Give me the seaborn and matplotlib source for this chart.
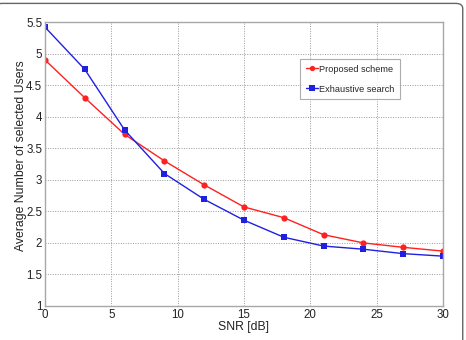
import matplotlib
matplotlib.use("Agg")
import matplotlib.pyplot as plt
import seaborn as sns
import pandas as pd
from matplotlib.patches import FancyBboxPatch

snr = [0, 3, 6, 9, 12, 15, 18, 21, 24, 27, 30]
proposed = [4.90, 4.30, 3.72, 3.30, 2.92, 2.57, 2.40, 2.13, 2.00, 1.93, 1.87]
exhaustive = [5.42, 4.75, 3.79, 3.10, 2.69, 2.36, 2.09, 1.95, 1.90, 1.83, 1.79]
series_names = ["Proposed scheme", "Exhaustive search"]
xticks = [0, 5, 10, 15, 20, 25, 30]
yticks = [1, 1.5, 2, 2.5, 3, 3.5, 4, 4.5, 5, 5.5]

sns.set_theme(style="white")
plt.rcParams['font.family'] = ['Liberation Sans', 'DejaVu Sans']

df = pd.DataFrame({
    "SNR": snr * 2,
    "val": proposed + exhaustive,
    "series": [series_names[0]] * len(snr) + [series_names[1]] * len(snr),
})

fig = plt.figure(figsize=(4.66, 3.40), dpi=100)
ax = fig.add_axes([0.0966, 0.100, 0.854, 0.835])

palette = {series_names[0]: "#ff2020", series_names[1]: "#2020e0"}
markers = {series_names[0]: "o", series_names[1]: "s"}
sns.lineplot(data=df, x="SNR", y="val", hue="series", style="series",
             palette=palette, markers=markers, dashes=False, markersize=4.5,
             markeredgewidth=0, linewidth=1.0, ax=ax)

ax.set_xlim(0, 30)
ax.set_ylim(1, 5.5)
ax.set_xticks(xticks)
ax.set_xticklabels([str(t) for t in xticks])
ax.set_yticks(yticks)
ax.set_yticklabels([("%g" % t) for t in yticks])
ax.tick_params(axis="both", labelsize=8.3, colors="#222222", direction="in",
               length=3, pad=2)
ax.grid(True, linestyle=(0, (1, 1.5)), color="#9a9a9a", linewidth=0.7)
for s in ax.spines.values():
    s.set_color("#a8a8a8")
    s.set_linewidth(1.0)

ax.set_xlabel("SNR [dB]", fontsize=8.8, color="#222222", labelpad=0)
ax.set_ylabel("Average Number of selected Users", fontsize=8.8, color="#222222")
ax.yaxis.set_label_coords(-0.045, 0.53)

leg = ax.legend(loc="upper left", bbox_to_anchor=(0.641, 0.870), fontsize=6.6,
                frameon=True, fancybox=False, borderpad=0.6, handlelength=1.3,
                handletextpad=0.2, labelspacing=1.2, borderaxespad=0,
                markerscale=0.85)
leg.get_frame().set_edgecolor("#999999")
leg.get_frame().set_linewidth(0.8)

border = FancyBboxPatch((-0.01, -0.3), 1.003, 1.29, boxstyle="round,pad=0,rounding_size=0.015",
                        transform=fig.transFigure, fill=False, edgecolor="#666666",
                        linewidth=1.0, clip_on=False)
fig.patches.append(border)

fig.savefig("out.png", dpi=100)
